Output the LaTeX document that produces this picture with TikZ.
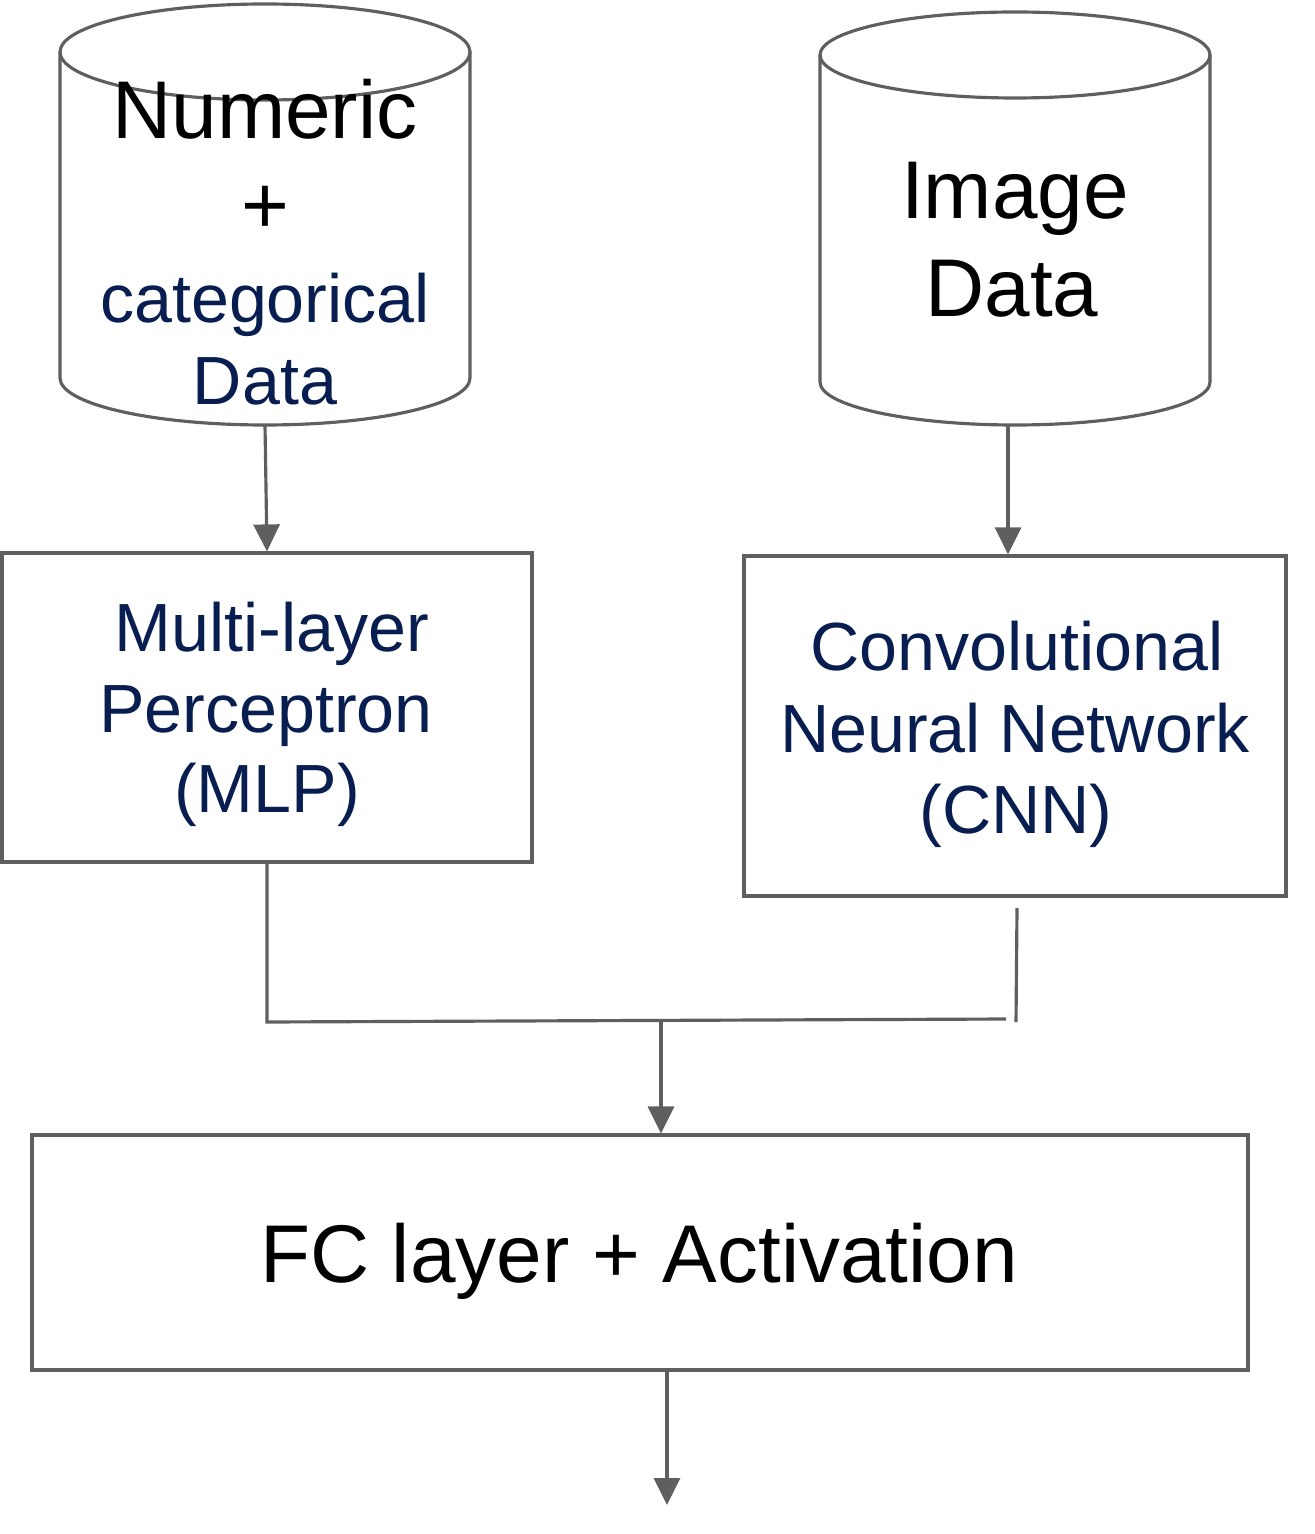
\documentclass[tikz,border=0pt]{standalone}
\usepackage{fontspec}
\setmainfont{Liberation Sans}
\usetikzlibrary{positioning, arrows.meta}
\definecolor{lineGray}{RGB}{95, 95, 95}
\definecolor{textNavy}{RGB}{8, 30, 80}

\begin{document}
\begin{tikzpicture}[
  line/.style={draw=lineGray, line width=0.9pt},
  arr/.style={line, -{Triangle[width=0.26cm, length=0.27cm]}},
  box/.style={line, rectangle, inner sep=0pt},
  big/.style={font=\fontsize{23.3}{28}\selectfont},
  mid/.style={font=\fontsize{19.4}{24}\selectfont, textNavy},
]
  \useasboundingbox (0,0) rectangle (13.14,-15.34);

  % numeric + categorical cylinder
  \draw[line] (2.65,-0.52) ellipse [x radius=2.05, y radius=0.48];
  \draw[line] (0.60,-0.52) -- (0.60,-3.78) arc[start angle=180, end angle=360, x radius=2.05, y radius=0.47] -- (4.70,-0.52);
  \node[big, anchor=base] (numA) at (2.65,-1.39) {Numeric};
  \node[big] (numB) at (2.65,-2.10) {+};
  \node[mid, anchor=base] (numC) at (2.65,-3.23) {categorical};
  \node[mid, anchor=base] (numD) at (2.65,-4.05) {Data};
  \coordinate (numbot) at (2.65,-4.25);

  % image cylinder
  \draw[line] (10.15,-0.55) ellipse [x radius=1.95, y radius=0.43];
  \draw[line] (8.20,-0.55) -- (8.20,-3.82) arc[start angle=180, end angle=360, x radius=1.95, y radius=0.43] -- (12.10,-0.55);
  \node[big, anchor=base] (imgA) at (10.15,-2.19) {Image};
  \node[big, anchor=base] (imgB) at (10.12,-3.17) {Data};
  \coordinate (imgbot) at (10.08,-4.25);

  % networks
  \node[box, minimum width=5.30cm, minimum height=3.09cm] (mlp) at (2.67,-7.075) {};
  \node[mid, anchor=base] (mlpA) at (2.72,-6.51) {Multi-layer};
  \node[mid, anchor=base] (mlpB) at (2.66,-7.32) {Perceptron};
  \node[mid, anchor=base] (mlpC) at (2.67,-8.12) {(MLP)};

  \node[box, minimum width=5.42cm, minimum height=3.40cm] (cnn) at (10.15,-7.26) {};
  \node[mid, anchor=base] (cnnA) at (10.17,-6.70) {Convolutional};
  \node[mid, anchor=base] (cnnB) at (10.15,-7.52) {Neural Network};
  \node[mid, anchor=base] (cnnC) at (10.16,-8.33) {(CNN)};

  % head
  \node[box, minimum width=12.16cm, minimum height=2.35cm] (fc) at (6.40,-12.525) {};
  \node[big, anchor=base] (fcA) at (6.39,-12.82) {FC layer + Activation};

  % connectors
  \draw[arr] (numbot) -- (mlp.north);
  \draw[arr] (imgbot) -- (imgbot |- cnn.north);
  \coordinate (jl) at (2.67,-10.22);
  \coordinate (jr) at (10.06,-10.19);
  \coordinate (cnnlow) at (10.17,-9.08);
  \coordinate (cr) at (10.16,-10.22);
  \coordinate (merge) at (6.61,-10.21);
  \coordinate (out) at (6.67,-15.05);
  \draw[line] (mlp.south) -- (jl) -- (jr);
  \draw[line] (cnnlow) -- (cr);
  \draw[arr] (merge) -- (merge |- fc.north);
  \draw[arr] (out |- fc.south) -- (out);
\end{tikzpicture}
\end{document}
